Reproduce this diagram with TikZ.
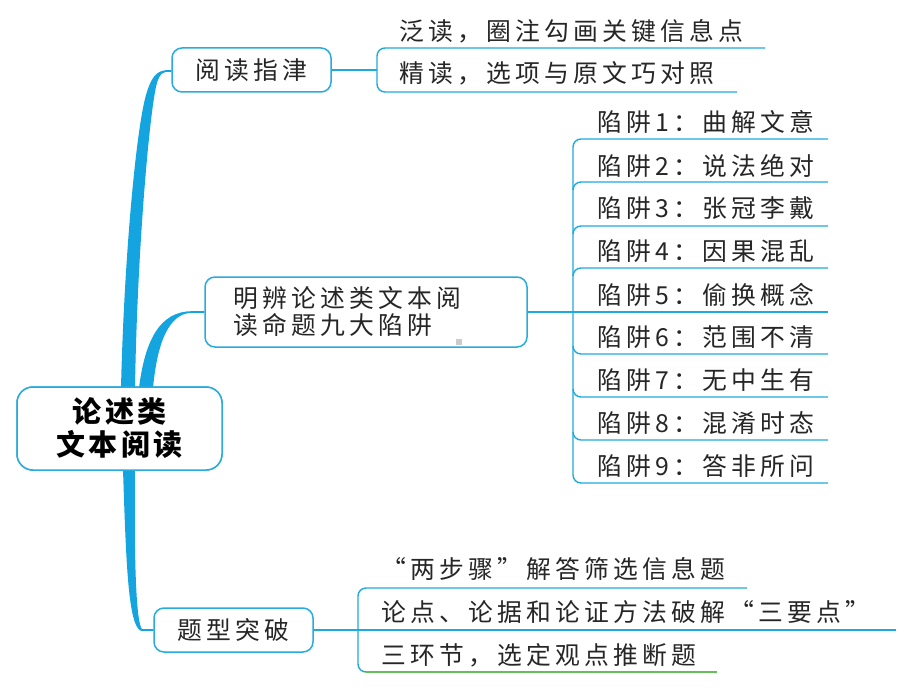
\documentclass[tikz,border=0pt]{standalone}
\usepackage{fontspec}
\setmainfont{Noto Sans CJK SC}
\newfontfamily\cjk[LetterSpace=17]{Noto Sans CJK SC}
\newfontfamily\cjkroot[LetterSpace=12]{Noto Sans CJK SC}
\definecolor{trunkc}{RGB}{20,165,225}
\definecolor{boxc}{RGB}{40,172,222}
\definecolor{linec}{RGB}{30,170,220}
\definecolor{greenc}{RGB}{100,190,90}
\begin{document}
\begin{tikzpicture}[x=1pt,y=-1pt,
  txt/.style={font=\cjk\fontsize{24.8}{27}\selectfont, inner sep=0pt, text=black!85},
  topicbox/.style={draw=boxc, line width=1.5pt, rounded corners=10pt, fill=white,
    font=\cjk\fontsize{24.8}{27}\selectfont, text=black!85, inner sep=0pt},
  rootbox/.style={draw=boxc, line width=1.5pt, rounded corners=16pt, fill=white,
    font=\cjkroot\bfseries\fontsize{29}{33}\selectfont, align=center, minimum width=205pt, minimum height=83pt, inner sep=0pt},
  conn/.style={draw=linec, line width=1.4pt},
  gconn/.style={draw=greenc, line width=1.4pt},
  trunk/.style={fill=trunkc}]
\useasboundingbox (0,0) rectangle (920,690);
\fill[white] (0,0) rectangle (920,690);

% nodes
\node[rootbox] (root) at (119.5,428.5) {论述类\\文本阅读};
\node[topicbox, minimum width=159pt, minimum height=44pt] (b1) at (251.5,70) {阅读指津};
\node[topicbox, minimum width=322pt, minimum height=70pt, align=left, text width=300pt] (b2) at (366,312) {\hspace*{17pt}明辨论述类文本阅\\\hspace*{17pt}读命题九大陷阱};
\node[topicbox, minimum width=159pt, minimum height=44pt] (b3) at (233.5,630) {题型突破};

% trunk to b1
\fill[trunkc] (121,388) .. controls (124,260) and (136,130) .. (146,95)
  .. controls (151,78) and (156,71) .. (166,70.2) -- (b1.west |- 0,70.2) -- (b1.west |- 0,71.8) -- (166,71.8)
  .. controls (160,72.5) and (157,80) .. (155,92)
  .. controls (148,130) and (137,260) .. (135,388) -- cycle;
% trunk to b2
\fill[trunkc] (139,388) .. controls (145,340) and (160,311.2) .. (192,311.2) -- (b2.west |- 0,311.2)
  -- (b2.west |- 0,312.8) -- (192,312.8) .. controls (168,313) and (157,345) .. (153,388) -- cycle;
% trunk to b3
\fill[trunkc] (123,469) .. controls (126,560) and (128,626) .. (141,630.8) -- (b3.west |- 0,630.8)
  -- (b3.west |- 0,629.2) -- (142,629.2) .. controls (136,622) and (134,560) .. (135,469) -- cycle;
\node[rootbox] at (root) {论述类\\文本阅读};

% branch 1 children
\coordinate (k1) at (377,70);
\draw[conn] (b1.east) -- (k1);
\draw[conn, rounded corners=8pt] (765,48) -- (377,48) -- (377,92) -- (737,92);
\node[txt, anchor=west] (c11) at (399,31) {泛读，圈注勾画关键信息点};
\node[txt, anchor=west] (c12) at (399,73) {精读，选项与原文巧对照};

% branch 2 children
\coordinate (k2) at (573,312);
\draw[conn] (b2.east) -- (828,312);
\draw[conn] (828,139) -- (581,139) to[out=180,in=90] (573,147) -- (573,475) to[out=-90,in=180] (581,483) -- (828,483);
\foreach \yy in {182,226,268} {\draw[conn] (573,\yy+8) to[out=90,in=180] (581,\yy) -- (828,\yy);}
\foreach \yy in {354,397,440} {\draw[conn] (573,\yy-8) to[out=-90,in=180] (581,\yy) -- (828,\yy);}
\node[txt, anchor=west] (t1) at (597,122.5) {陷阱1：曲解文意};
\node[txt, anchor=west] (t2) at (597,165.5) {陷阱2：说法绝对};
\node[txt, anchor=west] (t3) at (597,208.5) {陷阱3：张冠李戴};
\node[txt, anchor=west] (t4) at (597,251.5) {陷阱4：因果混乱};
\node[txt, anchor=west] (t5) at (597,294.5) {陷阱5：偷换概念};
\node[txt, anchor=west] (t6) at (597,337.5) {陷阱6：范围不清};
\node[txt, anchor=west] (t7) at (597,380.5) {陷阱7：无中生有};
\node[txt, anchor=west] (t8) at (597,423.5) {陷阱8：混淆时态};
\node[txt, anchor=west] (t9) at (597,466.5) {陷阱9：答非所问};
\fill[black!20] (456,339) rectangle (462,345);

% branch 3 children
\coordinate (k3) at (358,630);
\draw[conn] (b3.east) -- (896,630);
\draw[conn, rounded corners=8pt] (747,588) -- (358,588) -- (358,672) -- (366,672);
\draw[gconn] (366,672) -- (717,672);
\node[txt, anchor=west] (c31) at (381,569) {“两步骤”解答筛选信息题};
\node[txt, anchor=west] (c32) at (381,612) {论点、论据和论证方法破解“三要点”};
\node[txt, anchor=west] (c33) at (381,655) {三环节，选定观点推断题};
\end{tikzpicture}
\end{document}
